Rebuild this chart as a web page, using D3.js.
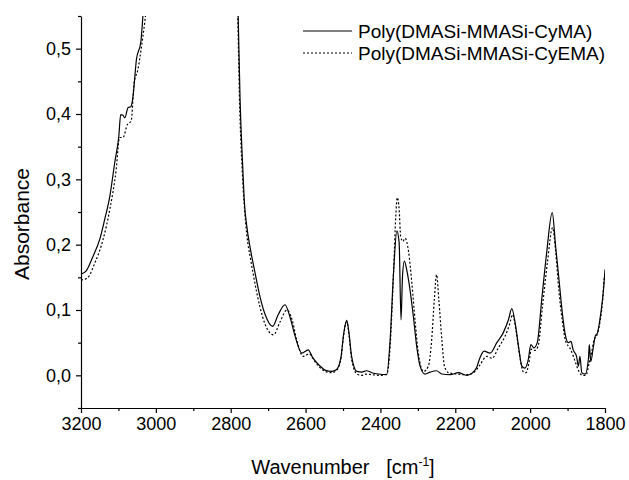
<!DOCTYPE html>
<html>
<head>
<meta charset="utf-8">
<script src="https://cdn.jsdelivr.net/npm/d3@7"></script>
<style>
  body { margin: 0; background: #fff; }
  text { font-family: Arial, "Liberation Sans", sans-serif; fill: #000; }
</style>
</head>
<body>
<div id="chart"></div>
<script>
// series names
const seriesNames = ["Poly(DMASi-MMASi-CyMA)", "Poly(DMASi-MMASi-CyEMA)"];

// tick labels
const xTicks = [3200, 3000, 2800, 2600, 2400, 2200, 2000, 1800];
const yTicks = [0, 0.1, 0.2, 0.3, 0.4, 0.5];

// Poly(DMASi-MMASi-CyMA), solid line (values above 0.55 are off scale)
const wnSolid = [3200, 3186, 3168, 3150, 3137, 3123, 3110, 3099, 3094, 3088, 3083, 3074, 3067, 3061, 3052, 3040, 3034,
  3020, 3000, 2960, 2920, 2880, 2840, 2800, 2782, 2775, 2768, 2764, 2757, 2747, 2735, 2722, 2708, 2688, 2673, 2655,
  2642, 2628, 2610, 2593, 2581, 2561, 2548, 2530, 2517, 2505, 2499, 2490, 2484, 2477, 2463, 2450, 2437, 2423, 2406,
  2383, 2374, 2365, 2356, 2350, 2345, 2341, 2336, 2330, 2321, 2312, 2303, 2294, 2281, 2267, 2250, 2236, 2214, 2192,
  2169, 2156, 2143, 2134, 2123, 2107, 2089, 2072, 2058, 2049, 2040, 2031, 2022, 2014, 2005, 1998, 1990, 1981, 1969,
  1956, 1941, 1932, 1923, 1916, 1907, 1898, 1891, 1885, 1876, 1871, 1867, 1862, 1853, 1844, 1842, 1838, 1831, 1826,
  1820, 1811, 1804, 1800];
const absSolid = [0.155, 0.160, 0.182, 0.208, 0.238, 0.274, 0.325, 0.366, 0.399, 0.398, 0.394, 0.410, 0.411, 0.427, 0.483, 0.511, 0.555,
  0.68, 0.9, 1.2, 1.4, 1.2, 1.1, 0.85, 0.6, 0.422, 0.32, 0.269, 0.228, 0.192, 0.157, 0.121, 0.093, 0.075, 0.093, 0.108,
  0.090, 0.060, 0.034, 0.039, 0.027, 0.014, 0.008, 0.006, 0.009, 0.029, 0.060, 0.084, 0.065, 0.029, 0.006, 0.005, 0.007, 0.004, 0.002,
  0.001, 0.055, 0.157, 0.221, 0.203, 0.085, 0.152, 0.175, 0.162, 0.131, 0.090, 0.044, 0.014, 0.002, 0.005, 0.007, 0.002, 0.001, 0.004,
  0.000, 0.003, 0.012, 0.027, 0.037, 0.034, 0.050, 0.065, 0.085, 0.102, 0.080, 0.044, 0.014, 0.011, 0.024, 0.047, 0.042, 0.050, 0.116,
  0.187, 0.249, 0.198, 0.147, 0.106, 0.065, 0.050, 0.052, 0.039, 0.029, 0.014, 0.029, 0.004, 0.002, 0.027, 0.047, 0.021, 0.044, 0.060,
  0.065, 0.096, 0.131, 0.162];

// Poly(DMASi-MMASi-CyEMA), dotted line
const wnDashed = [3200, 3183, 3163, 3141, 3123, 3106, 3097, 3088, 3076, 3066, 3058, 3048, 3037, 3027,
  3010, 2990, 2960, 2920, 2880, 2840, 2800, 2783, 2776, 2769, 2764, 2757, 2747, 2735, 2722, 2708, 2686, 2668, 2650,
  2636, 2624, 2606, 2590, 2575, 2548, 2530, 2517, 2505, 2499, 2490, 2484, 2477, 2463, 2450, 2437, 2423, 2400,
  2383, 2374, 2365, 2359, 2355, 2350, 2346, 2340, 2334, 2325, 2316, 2307, 2299, 2285, 2272, 2263, 2256, 2250, 2244,
  2236, 2229, 2218, 2196, 2169, 2151, 2134, 2116, 2102, 2085, 2067, 2055, 2047, 2038, 2029, 2018, 2011, 2003, 1997,
  1988, 1979, 1967, 1954, 1940, 1932, 1923, 1914, 1905, 1894, 1885, 1876, 1869, 1860, 1851, 1842, 1836, 1829, 1823,
  1814, 1807, 1802, 1800];
const absDashed = [0.146, 0.149, 0.172, 0.208, 0.254, 0.315, 0.364, 0.364, 0.384, 0.389, 0.448, 0.468, 0.509, 0.555,
  0.7, 0.9, 1.2, 1.4, 1.2, 1.1, 0.85, 0.6, 0.41, 0.31, 0.262, 0.215, 0.178, 0.140, 0.105, 0.078, 0.062, 0.082, 0.100,
  0.085, 0.055, 0.029, 0.033, 0.021, 0.006, 0.004, 0.008, 0.028, 0.058, 0.082, 0.062, 0.025, 0.002, 0.000, 0.002, 0.001, 0.000,
  0.002, 0.045, 0.157, 0.243, 0.272, 0.254, 0.213, 0.205, 0.210, 0.190, 0.141, 0.081, 0.035, 0.006, 0.014, 0.055, 0.116, 0.154, 0.116,
  0.055, 0.014, 0.004, 0.002, 0.001, 0.004, 0.016, 0.029, 0.026, 0.042, 0.060, 0.078, 0.093, 0.070, 0.034, 0.005, 0.004, 0.020, 0.040,
  0.038, 0.044, 0.106, 0.172, 0.226, 0.190, 0.128, 0.083, 0.052, 0.042, 0.030, 0.015, 0.005, 0.000, 0.000, 0.020, 0.034, 0.055, 0.060,
  0.080, 0.110, 0.148, 0.155];

const margin = { top: 16, right: 24, bottom: 72, left: 81 },
    width = 629 - margin.left - margin.right,
    height = 480 - margin.top - margin.bottom;

const svg = d3.select("#chart")
    .append("svg")
    .attr("width", 629)
    .attr("height", 480)
    .append("g")
    .attr("transform", "translate(" + margin.left + "," + margin.top + ")");

const x = d3.scaleLinear().domain([3200, 1800]).range([0, width]);
const y = d3.scaleLinear().domain([-0.05, 0.55]).range([height, 0]);

const comma = d => d3.format(".1f")(d).replace(".", ",");

// minor ticks first, then major axes on top
svg.append("g")
    .attr("transform", "translate(0," + height + ")")
    .call(d3.axisBottom(x).tickValues(d3.range(3100, 1800, -200)).tickSize(3).tickFormat(""))
    .call(g => g.select(".domain").remove());
svg.append("g")
    .call(d3.axisLeft(y).tickValues([-0.05, 0.05, 0.15, 0.25, 0.35, 0.45, 0.55]).tickSize(3).tickFormat(""))
    .call(g => g.select(".domain").remove());

svg.append("g")
    .attr("transform", "translate(0," + height + ")")
    .call(d3.axisBottom(x).tickValues(xTicks).tickSize(5).tickSizeOuter(0).tickPadding(4).tickFormat(d3.format("d")));
svg.append("g")
    .call(d3.axisLeft(y).tickValues(yTicks).tickSize(5).tickSizeOuter(0).tickPadding(5).tickFormat(comma));

svg.selectAll(".tick text").style("font-size", "18px").style("font-family", "Arial, 'Liberation Sans', sans-serif");
svg.selectAll(".domain, .tick line").attr("stroke", "#000").attr("stroke-width", 1.2);

// clip the curves to the plot area
svg.append("clipPath").attr("id", "clip")
    .append("rect").attr("width", width).attr("height", height);

const line = d3.line()
    .x(d => x(d[0]))
    .y(d => y(d[1]))
    .curve(d3.curveMonotoneX);

svg.append("path")
    .datum(d3.zip(wnDashed, absDashed))
    .attr("clip-path", "url(#clip)")
    .attr("fill", "none")
    .attr("stroke", "#000")
    .attr("stroke-width", 1.2)
    .attr("stroke-dasharray", "2,2")
    .attr("d", line);

svg.append("path")
    .datum(d3.zip(wnSolid, absSolid))
    .attr("clip-path", "url(#clip)")
    .attr("fill", "none")
    .attr("stroke", "#000")
    .attr("stroke-width", 1.2)
    .attr("d", line);

// axis titles
svg.append("text")
    .attr("transform", "rotate(-90)")
    .attr("x", -208)
    .attr("y", -52)
    .attr("text-anchor", "middle")
    .style("font-size", "21px")
    .text("Absorbance");

const xt = svg.append("text")
    .attr("x", width / 2)
    .attr("y", height + 66)
    .attr("text-anchor", "middle")
    .style("font-size", "20px");
xt.append("tspan").text("Wavenumber\u00a0\u00a0\u00a0[cm");
xt.append("tspan").attr("dy", -8).style("font-size", "12px").text("-1");
xt.append("tspan").attr("dy", 8).text("]");

// legend
const legend = svg.append("g").attr("transform", "translate(222,15)");
seriesNames.forEach((name, i) => {
    const row = legend.append("g").attr("transform", "translate(0," + (i * 22) + ")");
    row.append("line")
        .attr("x1", 0).attr("x2", 49)
        .attr("stroke", "#000")
        .attr("stroke-width", 1.2)
        .attr("stroke-dasharray", i === 1 ? "2,2" : null);
    row.append("text")
        .attr("x", 55)
        .attr("dy", "0.35em")
        .style("font-size", "19px")
        .text(name);
});
</script>
</body>
</html>
